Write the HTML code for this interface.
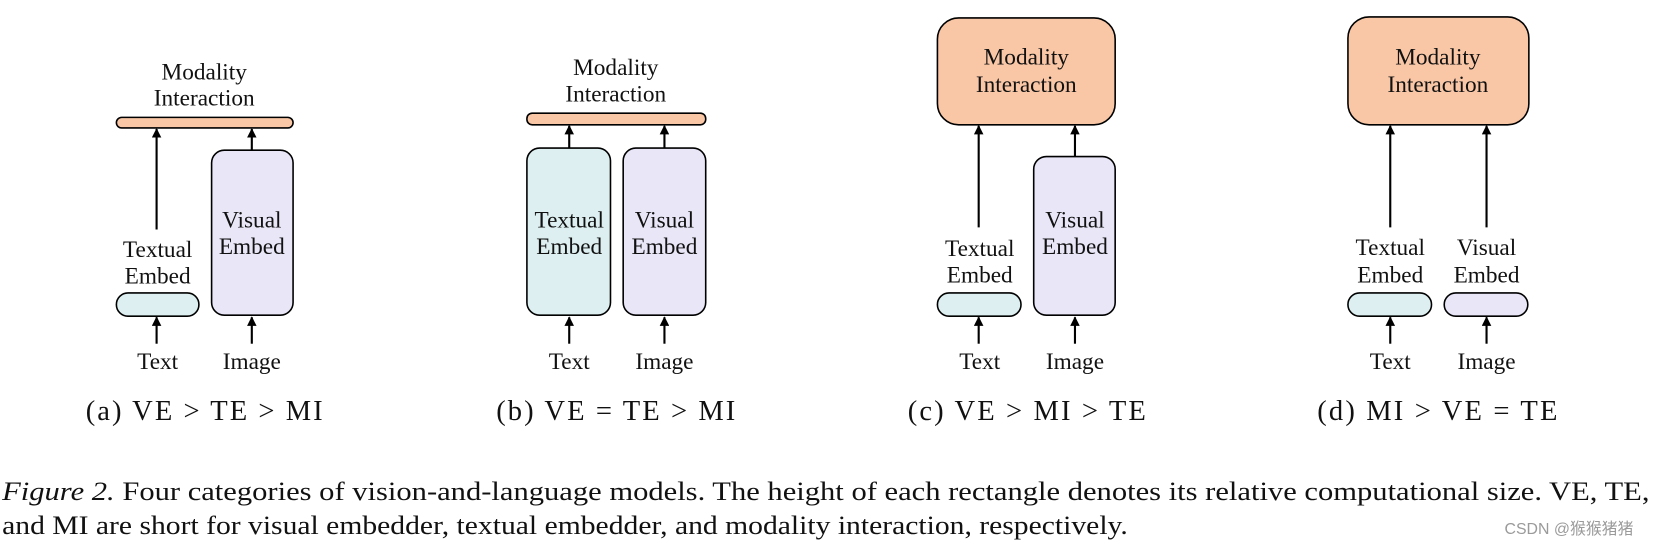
<!DOCTYPE html>
<html><head><meta charset="utf-8"><style>
html,body{margin:0;padding:0;background:#fff;}
svg{display:block;}
text{font-family:"Liberation Serif","Noto Serif CJK SC",serif;fill:#111;}
</style></head><body>
<svg width="1659" height="551" viewBox="0 0 1568 521" preserveAspectRatio="none" xmlns="http://www.w3.org/2000/svg">
<defs>
<marker id="ah" viewBox="0 0 10 10" refX="9" refY="5" markerWidth="9" markerHeight="9" markerUnits="userSpaceOnUse" orient="auto">
<path d="M0,0 L10,5 L0,10 z" fill="#000"/></marker>
</defs>
<g stroke="#000" stroke-width="1.5">
<rect x="110" y="111" width="167" height="10" rx="5" fill="#f9c7a6"/>
<rect x="200" y="142" width="77" height="156" rx="12" fill="#e9e6f8"/>
<rect x="110" y="277" width="78" height="22" rx="11" fill="#ddeff0"/>
<rect x="498" y="107" width="169" height="11" rx="5" fill="#f9c7a6"/>
<rect x="498" y="140" width="79" height="158" rx="12" fill="#ddeff0"/>
<rect x="589" y="140" width="78" height="158" rx="12" fill="#e9e6f8"/>
<rect x="886" y="17" width="168" height="101" rx="20" fill="#f9c7a6"/>
<rect x="977" y="148" width="77" height="150" rx="12" fill="#e9e6f8"/>
<rect x="886" y="277" width="79" height="22" rx="11" fill="#ddeff0"/>
<rect x="1274" y="16" width="171" height="102" rx="20" fill="#f9c7a6"/>
<rect x="1274" y="277" width="79" height="22" rx="11" fill="#ddeff0"/>
<rect x="1365" y="277" width="79" height="22" rx="11" fill="#e9e6f8"/>
</g>
<g stroke="#000" stroke-width="2" marker-end="url(#ah)">
<line x1="148" y1="217" x2="148" y2="122"/>
<line x1="238" y1="142" x2="238" y2="122"/>
<line x1="148" y1="325" x2="148" y2="300"/>
<line x1="238" y1="325" x2="238" y2="300"/>
<line x1="538" y1="140" x2="538" y2="119"/>
<line x1="628" y1="140" x2="628" y2="119"/>
<line x1="538" y1="325" x2="538" y2="300"/>
<line x1="628" y1="325" x2="628" y2="300"/>
<line x1="925" y1="215" x2="925" y2="119"/>
<line x1="1016" y1="148" x2="1016" y2="119"/>
<line x1="925" y1="325" x2="925" y2="300"/>
<line x1="1016" y1="325" x2="1016" y2="300"/>
<line x1="1314" y1="215" x2="1314" y2="119"/>
<line x1="1405" y1="215" x2="1405" y2="119"/>
<line x1="1314" y1="325" x2="1314" y2="300"/>
<line x1="1405" y1="325" x2="1405" y2="300"/>
</g>
<g font-size="22" text-anchor="middle">
<text x="193" y="75">Modality</text><text x="193" y="100">Interaction</text>
<text x="238" y="215">Visual</text><text x="238" y="240">Embed</text>
<text x="149" y="243">Textual</text><text x="149" y="268">Embed</text>
<text x="149" y="349">Text</text><text x="238" y="349">Image</text>

<text x="582" y="71">Modality</text><text x="582" y="96">Interaction</text>
<text x="538" y="215">Textual</text><text x="538" y="240">Embed</text>
<text x="628" y="215">Visual</text><text x="628" y="240">Embed</text>
<text x="538" y="349">Text</text><text x="628" y="349">Image</text>

<text x="970" y="61">Modality</text><text x="970" y="87">Interaction</text>
<text x="1016" y="215">Visual</text><text x="1016" y="240">Embed</text>
<text x="926" y="242">Textual</text><text x="926" y="267">Embed</text>
<text x="926" y="349">Text</text><text x="1016" y="349">Image</text>

<text x="1359" y="61">Modality</text><text x="1359" y="87">Interaction</text>
<text x="1314" y="241">Textual</text><text x="1314" y="267">Embed</text>
<text x="1405" y="241">Visual</text><text x="1405" y="267">Embed</text>
<text x="1314" y="349">Text</text><text x="1405" y="349">Image</text>
</g>
<g font-size="27">
<text x="81" y="397" textLength="224" lengthAdjust="spacing">(a) VE &gt; TE &gt; MI</text>
<text x="469" y="397" textLength="226" lengthAdjust="spacing">(b) VE = TE &gt; MI</text>
<text x="858" y="397" textLength="225" lengthAdjust="spacing">(c) VE &gt; MI &gt; TE</text>
<text x="1245" y="397" textLength="227" lengthAdjust="spacing">(d) MI &gt; VE = TE</text>
</g>
<text x="2" y="473" font-size="25" textLength="1557" lengthAdjust="spacingAndGlyphs"><tspan font-style="italic">Figure 2.</tspan> Four categories of vision-and-language models. The height of each rectangle denotes its relative computational size. VE, TE,</text>
<text x="2" y="505" font-size="25" textLength="1064" lengthAdjust="spacingAndGlyphs">and MI are short for visual embedder, textual embedder, and modality interaction, respectively.</text>
<text x="1422" y="505" font-size="15" style="fill:#9a9a9a;font-family:'Liberation Sans','Noto Sans CJK SC',sans-serif">CSDN @猴猴猪猪</text>
</svg>
</body></html>
